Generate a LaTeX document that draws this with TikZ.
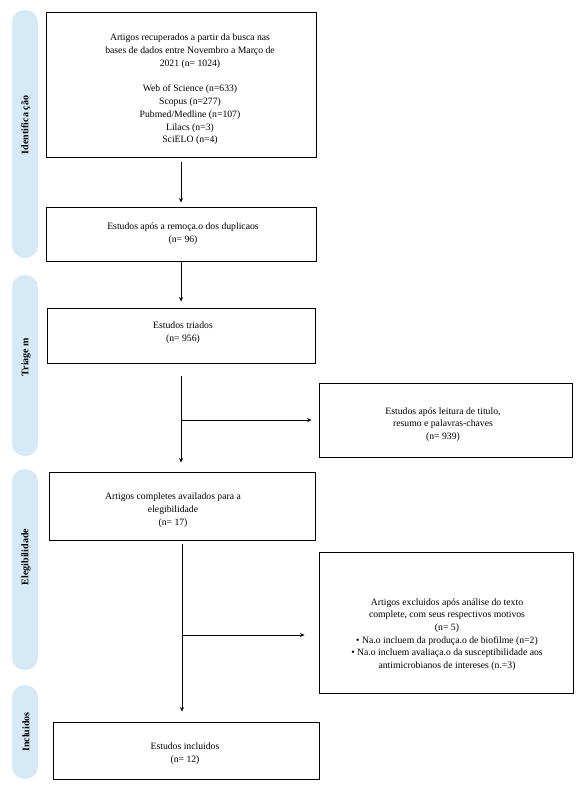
\documentclass[tikz,border=0pt]{standalone}
\usepackage{fontspec}
\setmainfont{Liberation Serif}
\usetikzlibrary{arrows.meta,calc}
\definecolor{sidebar}{RGB}{213,233,247}
\begin{document}
\begin{tikzpicture}[x=1pt,y=-1pt,
  box/.style={draw=black,line width=0.9pt,inner sep=0pt,fill=white},
  side/.style={fill=sidebar,draw=none,rounded corners=12.5pt,inner sep=0pt,minimum width=26pt},
  sidelabel/.style={rotate=90,font=\bfseries\fontsize{10}{11}\selectfont,inner sep=0pt},
  txt/.style={align=center,font=\fontsize{9.7}{12.7}\selectfont,inner sep=0pt},
  arr/.style={line width=0.8pt,-{Stealth[length=4.5pt,width=4pt]}}]
\useasboundingbox (0,0) rectangle (580,794);

% side bars
\node[side,minimum height=248pt] (s1) at (25,134) {};
\node[side,minimum height=181pt] (s2) at (25,365.5) {};
\node[side,minimum height=201pt] (s3) at (25,569.5) {};
\node[side,minimum height=94pt] (s4) at (25,732) {};
\node[sidelabel] (l1) at (26,125) {Identifica ção};
\node[sidelabel] (l2) at (26,357) {Triage m};
\node[sidelabel] (l3) at (26,557) {Elegibilidade};
\node[sidelabel] (l4) at (26,732) {Incluidos};

% boxes
\node[box,minimum width=270pt,minimum height=145pt] (b1) at (181,84.5) {};
\node[box,minimum width=270pt,minimum height=54pt] (b2) at (181,234) {};
\node[box,minimum width=268pt,minimum height=55pt] (b3) at (181,335.5) {};
\node[box,minimum width=253pt,minimum height=74pt] (b4) at (445.5,420) {};
\node[box,minimum width=266pt,minimum height=68pt] (b5) at (182,506) {};
\node[box,minimum width=254pt,minimum height=141pt] (b6) at (446,622.5) {};
\node[box,minimum width=266pt,minimum height=57pt] (b7) at (186,750.5) {};

% texts
\node[txt] (t1) at (190,89.5) {Artigos recuperados a partir da busca nas\\
bases de dados entre Novembro a Março de\\
2021 (n= 1024)\\[13pt]
Web of Science (n=633)\\
Scopus (n=277)\\
Pubmed/Medline (n=107)\\
Lilacs (n=3)\\
SciELO (n=4)};
\node[txt] (t2) at (183,234) {Estudos após a remoça.o dos duplicaos\\(n= 96)};
\node[txt] (t3) at (183,332.5) {Estudos triados\\(n= 956)};
\node[txt] (t4) at (443,424.5) {Estudos após leitura de titulo,\\resumo e palavras-chaves\\(n= 939)};
\node[txt] (t5) at (173,510) {Artigos completes availados para a\\elegibilidade\\(n= 17)};
\node[txt] (t6) at (447,634.5) {Artigos excluidos após análise do texto\\
complete, com seus respectivos motivos\\
(n= 5)\\
• Na.o incluem da produça.o de biofilme (n=2)\\
• Na.o incluem avaliaça.o da susceptibilidade aos\\
antimicrobianos de intereses (n.=3)};
\node[txt] (t7) at (185,753.5) {Estudos incluidos\\(n= 12)};

% connectors
\draw[arr] ([yshift=-5pt]b1.south) -- ([yshift=4pt]b2.north);
\draw[arr] (b2.south) -- ([yshift=6pt]b3.north);
\coordinate (j1) at ([yshift=-13pt]b3.south);
\path (j1 |- b5.north) coordinate (k1);
\draw[arr] (j1) -- ([yshift=9pt]k1);
\path (j1 |- b4.west) coordinate (m1);
\draw[arr] (m1) -- ([xshift=-7pt]b4.west);
\coordinate (j2) at ([yshift=-4pt]b5.south);
\path (j2 |- b7.north) coordinate (k2);
\draw[arr] (j2) -- ([yshift=10pt]k2);
\coordinate (m2) at (182,635);
\path (b6.west |- m2) coordinate (e6);
\draw[arr] (m2) -- ([xshift=-14pt]e6);
\end{tikzpicture}
\end{document}
